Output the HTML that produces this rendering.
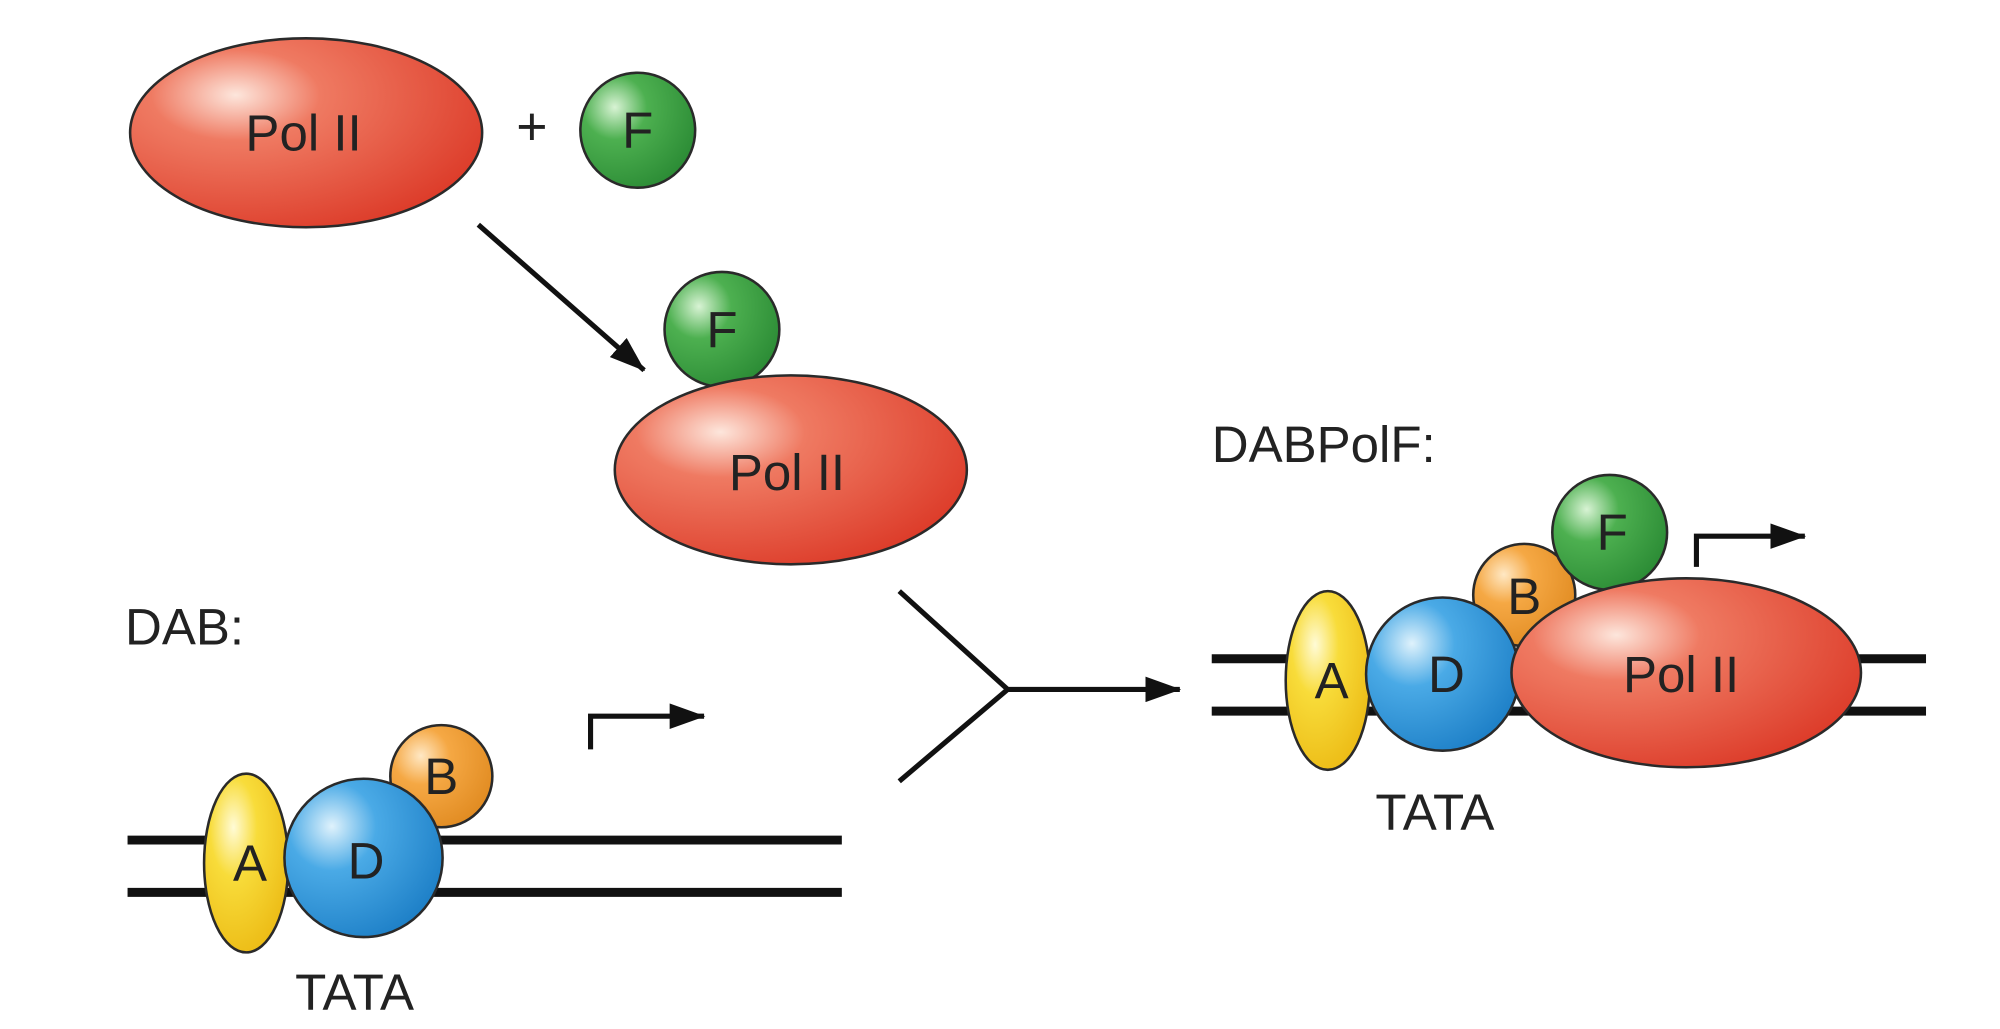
<!DOCTYPE html>
<html><head><meta charset="utf-8"><style>
html,body{margin:0;padding:0;background:#fff;}
svg{display:block;}
text{font-family:"Liberation Sans",sans-serif;fill:#222;}
</style></head><body>
<svg width="2000" height="1029" viewBox="0 0 1568 806" preserveAspectRatio="none" xmlns="http://www.w3.org/2000/svg">
<defs>
<radialGradient id="red" cx="0.3" cy="0.3" r="0.8"><stop offset="0" stop-color="#fde6dc"/><stop offset="0.3" stop-color="#ef7a62"/><stop offset="1" stop-color="#dc3a28"/></radialGradient>
<radialGradient id="grn" cx="0.3" cy="0.3" r="0.8"><stop offset="0" stop-color="#d8f3d4"/><stop offset="0.35" stop-color="#4db050"/><stop offset="1" stop-color="#2a8a34"/></radialGradient>
<radialGradient id="blu" cx="0.3" cy="0.3" r="0.8"><stop offset="0" stop-color="#dff2fc"/><stop offset="0.35" stop-color="#4aaae6"/><stop offset="1" stop-color="#1c7ec6"/></radialGradient>
<radialGradient id="yel" cx="0.35" cy="0.3" r="0.8"><stop offset="0" stop-color="#fffbd6"/><stop offset="0.35" stop-color="#f8dc3a"/><stop offset="1" stop-color="#ebb812"/></radialGradient>
<radialGradient id="org" cx="0.3" cy="0.3" r="0.8"><stop offset="0" stop-color="#ffe8c4"/><stop offset="0.35" stop-color="#f5a844"/><stop offset="1" stop-color="#e08a20"/></radialGradient>
<marker id="ah2" markerWidth="28" markerHeight="20" refX="27" refY="10" orient="auto" markerUnits="userSpaceOnUse"><path d="M0,0 L28,10 L0,20 Z" fill="#111"/></marker>
</defs>
<g stroke="#2a2a2a" stroke-width="2">
<ellipse cx="240" cy="104" rx="138" ry="74" fill="url(#red)"/>
<circle cx="500" cy="102" r="45" fill="url(#grn)"/>
<circle cx="566" cy="258" r="45" fill="url(#grn)"/>
<ellipse cx="620" cy="368" rx="138" ry="74" fill="url(#red)"/>
</g>
<text x="238" y="118" font-size="40" text-anchor="middle">Pol II</text>
<text x="417" y="113" font-size="42" text-anchor="middle">+</text>
<text x="500" y="116" font-size="40" text-anchor="middle">F</text>
<text x="566" y="272" font-size="40" text-anchor="middle">F</text>
<text x="617" y="384" font-size="40" text-anchor="middle">Pol II</text>
<line x1="375" y1="176" x2="505" y2="290" stroke="#111" stroke-width="4" marker-end="url(#ah2)"/>

<text x="98" y="505" font-size="40">DAB:</text>
<line x1="100" y1="658" x2="660" y2="658" stroke="#111" stroke-width="7"/>
<line x1="100" y1="699" x2="660" y2="699" stroke="#111" stroke-width="7"/>
<g stroke="#2a2a2a" stroke-width="2">
<ellipse cx="193" cy="676" rx="33" ry="70" fill="url(#yel)"/>
<circle cx="346" cy="608" r="40" fill="url(#org)"/>
<circle cx="285" cy="672" r="62" fill="url(#blu)"/>
</g>
<text x="196" y="690" font-size="40" text-anchor="middle">A</text>
<text x="287" y="688" font-size="40" text-anchor="middle">D</text>
<text x="346" y="622" font-size="40" text-anchor="middle">B</text>
<text x="278" y="791" font-size="40" text-anchor="middle">TATA</text>
<polyline points="463,587 463,561 552,561" fill="none" stroke="#111" stroke-width="4" marker-end="url(#ah2)"/>

<polyline points="705,463 790,540 705,612" fill="none" stroke="#111" stroke-width="4"/>
<line x1="790" y1="540" x2="925" y2="540" stroke="#111" stroke-width="4" marker-end="url(#ah2)"/>

<text x="950" y="362" font-size="40">DABPolF:</text>
<line x1="950" y1="516" x2="1510" y2="516" stroke="#111" stroke-width="7"/>
<line x1="950" y1="557" x2="1510" y2="557" stroke="#111" stroke-width="7"/>
<g stroke="#2a2a2a" stroke-width="2">
<ellipse cx="1041" cy="533" rx="33" ry="70" fill="url(#yel)"/>
<circle cx="1195" cy="466" r="40" fill="url(#org)"/>
<circle cx="1262" cy="417" r="45" fill="url(#grn)"/>
<circle cx="1131" cy="528" r="60" fill="url(#blu)"/>
<ellipse cx="1322" cy="527" rx="137" ry="74" fill="url(#red)"/>
</g>
<text x="1044" y="547" font-size="40" text-anchor="middle">A</text>
<text x="1134" y="542" font-size="40" text-anchor="middle">D</text>
<text x="1195" y="481" font-size="40" text-anchor="middle">B</text>
<text x="1264" y="431" font-size="40" text-anchor="middle">F</text>
<text x="1318" y="542" font-size="40" text-anchor="middle">Pol II</text>
<text x="1125" y="650" font-size="40" text-anchor="middle">TATA</text>
<polyline points="1330,444 1330,420 1415,420" fill="none" stroke="#111" stroke-width="4" marker-end="url(#ah2)"/>
</svg>
</body></html>
